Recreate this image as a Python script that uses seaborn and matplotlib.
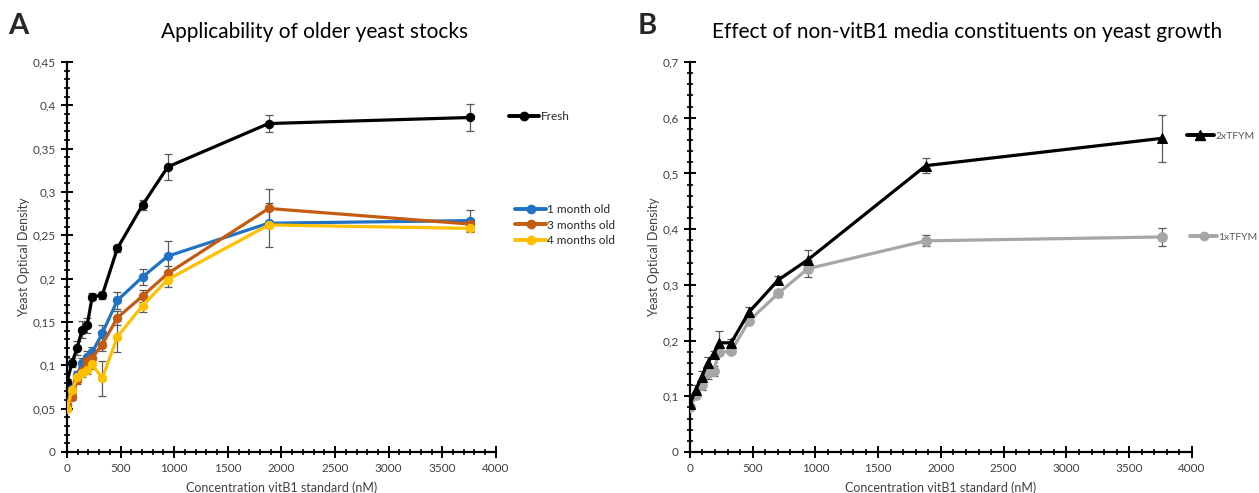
import numpy as np
import pandas as pd
import seaborn as sns
import matplotlib.pyplot as plt
from matplotlib.ticker import MultipleLocator, FuncFormatter
from matplotlib.lines import Line2D

# concentrations of the vitB1 standard (nM)
conc = [0, 47, 94, 141, 188, 235, 329, 470, 705, 940, 1880, 3760]

# panel A - yeast stock age
fresh = [0.081, 0.103, 0.120, 0.141, 0.146, 0.179, 0.181, 0.235, 0.285, 0.329, 0.379, 0.386]
fresh_err = [0.003, 0.005, 0.008, 0.010, 0.009, 0.004, 0.004, 0.004, 0.006, 0.015, 0.010, 0.016]
month1 = [0.053, 0.073, 0.089, 0.103, 0.110, 0.115, 0.137, 0.175, 0.202, 0.226, 0.264, 0.267]
month1_err = [0.004, 0.005, 0.005, 0.006, 0.006, 0.006, 0.010, 0.010, 0.009, 0.018, 0.003, 0.012]
month3 = [0.054, 0.064, 0.083, 0.094, 0.105, 0.109, 0.124, 0.155, 0.180, 0.206, 0.281, 0.263]
month3_err = [0.003, 0.004, 0.005, 0.005, 0.006, 0.007, 0.008, 0.008, 0.007, 0.009, 0.022, 0.006]
month4 = [0.050, 0.071, 0.086, 0.091, 0.095, 0.101, 0.085, 0.133, 0.169, 0.199, 0.262, 0.258]
month4_err = [0.003, 0.004, 0.005, 0.004, 0.005, 0.005, 0.020, 0.018, 0.007, 0.009, 0.025, 0.004]

# panel B - media strength
tfym2 = [0.086, 0.112, 0.135, 0.160, 0.176, 0.196, 0.196, 0.251, 0.309, 0.345, 0.514, 0.563]
tfym2_err = [0.005, 0.008, 0.010, 0.010, 0.006, 0.022, 0.006, 0.010, 0.006, 0.018, 0.013, 0.042]
tfym1 = fresh
tfym1_err = fresh_err

sns.set_style("white")
plt.rcParams['font.family'] = ['Lato', 'DejaVu Sans']

fig = plt.figure(figsize=(12.59, 4.93), dpi=100)
axA = fig.add_axes([0.0532, 0.0832, 0.3407, 0.791])
axB = fig.add_axes([0.548, 0.0832, 0.3987, 0.791])

err_color = '#595959'


def draw_series(ax, y, err, color, marker, ms=6):
    ax.errorbar(conc, y, yerr=err, fmt='none', ecolor=err_color, elinewidth=0.9,
                capsize=3, capthick=0.9, zorder=2)
    sns.lineplot(x=conc, y=y, ax=ax, color=color, marker=marker, markersize=ms,
                 markeredgecolor=color, linewidth=2.3, zorder=3)


def comma_fmt(v, pos):
    return f"{round(v, 3):g}".replace('.', ',')


draw_series(axA, fresh, fresh_err, 'black', 'o')
draw_series(axA, month1, month1_err, '#1f72c4', 'o')
draw_series(axA, month3, month3_err, '#c55a11', 'o')
draw_series(axA, month4, month4_err, '#ffc000', 'o')

draw_series(axB, tfym1, tfym1_err, '#a6a6a6', 'o', ms=7)
draw_series(axB, tfym2, tfym2_err, 'black', '^', ms=7)

for ax, ymax, ymaj, ymin in [(axA, 0.45, 0.05, 0.01), (axB, 0.7, 0.1, 0.02)]:
    ax.set_xlim(0, 4000)
    ax.set_ylim(0, ymax)
    ax.xaxis.set_major_locator(MultipleLocator(500))
    ax.xaxis.set_minor_locator(MultipleLocator(100))
    ax.yaxis.set_major_locator(MultipleLocator(ymaj))
    ax.yaxis.set_minor_locator(MultipleLocator(ymin))
    ax.yaxis.set_major_formatter(FuncFormatter(comma_fmt))
    sns.despine(ax=ax)
    for s in ['left', 'bottom']:
        ax.spines[s].set_linewidth(1.6)
        ax.spines[s].set_color('black')
    ax.tick_params(which='major', direction='inout', length=8, width=1.4,
                   labelsize=8.5, colors='black', labelcolor='#404040', pad=4)
    ax.tick_params(which='minor', direction='inout', length=4.5, width=1.2, colors='black')
    ax.tick_params(axis='x', which='both', bottom=True)
    ax.tick_params(axis='y', which='both', left=True)
    ax.set_xlabel('Concentration vitB1 standard (nM)', fontsize=9, color='#404040', labelpad=5)
    ax.set_ylabel('Yeast Optical Density', fontsize=9, color='#404040', labelpad=2)
    ax.grid(False)


def leg_handle(color, marker, ms=6):
    return Line2D([0], [0], color=color, marker=marker, markersize=ms, linewidth=2.8)


legA1 = axA.legend([leg_handle('black', 'o')], ['Fresh'], loc='center left',
                   bbox_to_anchor=(1.03, 0.86), frameon=False, fontsize=8.5,
                   handlelength=2.6, handletextpad=0.1, borderpad=0, borderaxespad=0)
axA.add_artist(legA1)
axA.legend([leg_handle('#1f72c4', 'o'), leg_handle('#c55a11', 'o'), leg_handle('#ffc000', 'o')],
           ['1 month old', '3 months old', '4 months old'], loc='center left',
           bbox_to_anchor=(1.045, 0.582), frameon=False, fontsize=8.5,
           handlelength=2.6, handletextpad=0.1, labelspacing=0.4,
           borderpad=0, borderaxespad=0)

legB1 = axB.legend([leg_handle('black', '^', 7)], ['2xTFYM'], loc='center left',
                   bbox_to_anchor=(0.99, 0.81), frameon=False, fontsize=7.5,
                   handlelength=2.6, handletextpad=0.1, borderpad=0, borderaxespad=0,
                   labelcolor='#595959')
axB.add_artist(legB1)
axB.legend([Line2D([0], [0], color='#a6a6a6', marker='o', markersize=6, linewidth=2.8)],
           ['1xTFYM'], loc='center left', bbox_to_anchor=(0.997, 0.551), frameon=False,
           fontsize=7.5, handlelength=2.6, handletextpad=0.1, borderpad=0,
           borderaxespad=0, labelcolor='#595959')

fig.text(315 / 1259, 1 - 32 / 493, 'Applicability of older yeast stocks',
         ha='center', va='center', fontsize=15, color='black')
fig.text(967 / 1259, 1 - 32 / 493, 'Effect of non-vitB1 media constituents on yeast growth',
         ha='center', va='center', fontsize=15, color='black')
fig.text(8 / 1259, 1 - 26 / 493, 'A', ha='left', va='center', fontsize=21, fontweight='bold')
fig.text(638 / 1259, 1 - 26 / 493, 'B', ha='left', va='center', fontsize=21, fontweight='bold')

fig.savefig('out.png', dpi=100)
